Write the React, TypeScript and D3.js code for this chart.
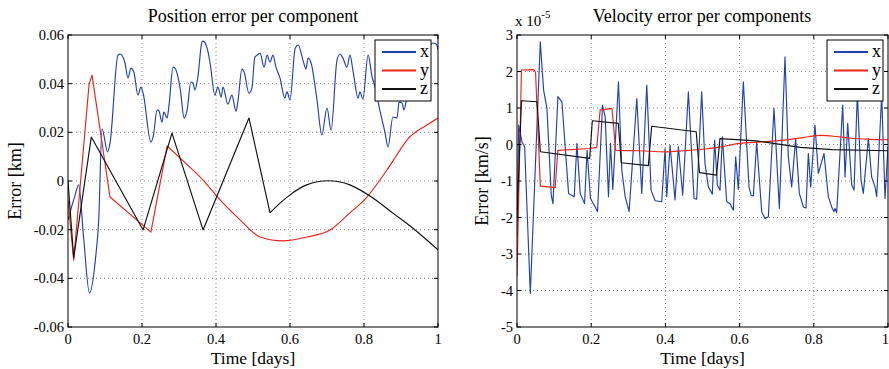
import React from "react";
import * as d3 from "d3";

// ---------- data ----------
const posTimeX = [0, 0.018, 0.029, 0.042, 0.058, 0.074, 0.083, 0.092, 0.107, 0.1135, 0.135, 0.141, 0.154, 0.162, 0.17, 0.178, 0.189, 0.197, 0.203, 0.224, 0.23, 0.241, 0.246, 0.254, 0.259, 0.268, 0.273, 0.284, 0.289, 0.303, 0.314, 0.322, 0.332, 0.338, 0.343, 0.351, 0.362, 0.365, 0.376, 0.384, 0.397, 0.405, 0.414, 0.419, 0.432, 0.443, 0.454, 0.459, 0.47, 0.476, 0.489, 0.497, 0.505, 0.511, 0.519, 0.53, 0.538, 0.546, 0.554, 0.562, 0.573, 0.586, 0.592, 0.6, 0.614, 0.622, 0.635, 0.643, 0.649, 0.657, 0.673, 0.686, 0.7, 0.711, 0.727, 0.735, 0.743, 0.754, 0.762, 0.77, 0.784, 0.789, 0.797, 0.811, 0.822, 0.83, 0.843, 0.857, 0.865, 0.878, 0.889, 0.895, 0.903, 0.908, 0.916, 0.93, 0.946, 0.962, 0.973, 0.986, 0.995, 1.0];
const posErrX = [-0.016, -0.0064, -0.0016, -0.0229, -0.046, -0.0324, -0.016, 0.0214, 0.012, 0.0155, 0.0517, 0.0522, 0.0485, 0.0423, 0.0464, 0.0448, 0.0353, 0.0386, 0.0361, 0.016, 0.0181, 0.0292, 0.0287, 0.0242, 0.0283, 0.0259, 0.0312, 0.0468, 0.0464, 0.0382, 0.0259, 0.0292, 0.0407, 0.0402, 0.0374, 0.0427, 0.0571, 0.0575, 0.0546, 0.0485, 0.0353, 0.0386, 0.0345, 0.0386, 0.0316, 0.0353, 0.0287, 0.0324, 0.046, 0.0448, 0.0361, 0.0382, 0.0509, 0.0517, 0.0526, 0.0468, 0.0517, 0.0489, 0.0517, 0.0468, 0.0423, 0.0341, 0.0366, 0.0333, 0.0546, 0.0559, 0.0497, 0.046, 0.0505, 0.0485, 0.0333, 0.0189, 0.03, 0.0209, 0.0497, 0.0522, 0.0505, 0.0468, 0.0517, 0.0456, 0.0341, 0.0366, 0.0337, 0.0517, 0.0427, 0.0386, 0.029, 0.0197, 0.014, 0.0263, 0.0259, 0.0324, 0.032, 0.0292, 0.0345, 0.045, 0.039, 0.05, 0.054, 0.0567, 0.0563, 0.054];

const posTimeY = [0, 0.0154, 0.057, 0.065, 0.1135, 0.224, 0.268, 0.338, 0.365, 0.411, 0.465, 0.519, 0.581, 0.646, 0.708, 0.762, 0.808, 0.843, 0.862, 0.889, 0.916, 0.97, 1.0];
const posErrY = [-0.008, -0.0325, 0.0398, 0.0435, -0.0066, -0.021, 0.0144, 0.0045, 0.0004, -0.0078, -0.016, -0.023, -0.0246, -0.023, -0.0201, -0.0131, -0.0066, 0.0004, 0.0045, 0.0108, 0.0168, 0.023, 0.0259];

const posTimeZ = [0, 0.0154, 0.063, 0.203, 0.281, 0.365, 0.489, 0.546, 0.573, 0.6, 0.645, 0.703, 0.762, 0.825, 0.879, 0.933, 1.0];
const posErrZ = [0, -0.0315, 0.0181, -0.0201, 0.0197, -0.0201, 0.0259, -0.0131, -0.0091, -0.0057, -0.0016, 0.0001, -0.0016, -0.0071, -0.0133, -0.0195, -0.0283];

const velTimeX = [0, 0.0045, 0.0135, 0.0206, 0.0359, 0.0628, 0.0717, 0.0807, 0.0924, 0.0969, 0.1103, 0.1211, 0.139, 0.1543, 0.1614, 0.1704, 0.182, 0.189, 0.198, 0.211, 0.217, 0.2305, 0.2377, 0.2466, 0.252, 0.2583, 0.2735, 0.2825, 0.2915, 0.3022, 0.3229, 0.3363, 0.3498, 0.3614, 0.3722, 0.3901, 0.3991, 0.4036, 0.4126, 0.426, 0.435, 0.4466, 0.4619, 0.4771, 0.4843, 0.4978, 0.5067, 0.5157, 0.5265, 0.5328, 0.54, 0.5472, 0.5535, 0.5652, 0.5741, 0.5831, 0.5894, 0.5966, 0.6101, 0.6253, 0.6307, 0.637, 0.646, 0.6595, 0.6685, 0.6775, 0.6927, 0.7071, 0.7224, 0.7314, 0.7403, 0.7511, 0.761, 0.7718, 0.779, 0.7853, 0.7916, 0.8032, 0.8122, 0.8275, 0.8392, 0.8482, 0.8545, 0.8572, 0.8617, 0.8779, 0.8842, 0.8914, 0.9022, 0.9084, 0.9174, 0.9273, 0.9335, 0.947, 0.956, 0.965, 0.9695, 0.983, 0.992, 1.0];
const velErrX = [-2.5, 0.53, 0.07, -0.06, -4.08, 2.81, 1.49, 0.99, -1.39, -1.62, 1.31, 1.17, -1.34, -1.43, 0.03, -1.34, -1.62, -0.16, -1.48, -1.71, -1.84, 1.08, 0.76, -1.43, 0.03, -1.23, 1.72, -0.7, -1.43, -1.84, 1.26, -1.34, 1.63, -1.25, -1.54, -1.57, -0.11, -1.43, -0.02, -1.52, -0.06, -1.39, 1.44, -1.48, -1.5, 1.44, -0.52, -1.16, -1.36, 0.12, -1.11, -1.25, 0.21, -1.57, -1.62, -1.8, -0.34, -1.23, 1.72, -1.16, -1.39, -1.41, 0.07, -1.84, -2.03, -1.98, 0.99, -1.75, 2.4, -0.34, -1.16, 0.16, -1.34, -1.71, -1.74, -0.25, -1.16, 0.53, -0.79, -0.25, -1.43, -1.71, -1.84, -1.75, -1.87, 1.08, -0.89, 0.58, -1.11, -1.25, 1.4, -0.98, -1.34, 0.16, -0.89, -1.16, -1.43, 1.35, -1.48, -0.06];

const velTimeY = [0, 0.012, 0.045, 0.05, 0.063, 0.103, 0.11, 0.197, 0.215, 0.224, 0.256, 0.266, 0.33, 0.4, 0.45, 0.5, 0.54, 0.6, 0.66, 0.72, 0.77, 0.82, 0.86, 0.9, 0.95, 1.0];
const velErrY = [-3.6, 2.04, 2.05, 1.98, -1.14, -1.18, -0.16, -0.11, -0.08, 0.94, 0.99, -0.16, -0.17, -0.2, -0.17, -0.13, -0.08, 0.03, 0.07, 0.12, 0.19, 0.25, 0.22, 0.17, 0.14, 0.13];

const velTimeZ = [0, 0.012, 0.054, 0.063, 0.196, 0.203, 0.273, 0.281, 0.354, 0.363, 0.483, 0.492, 0.538, 0.547, 0.646, 0.763, 0.85, 1.0];
const velErrZ = [-2.0, 1.2, 1.17, -0.2, -0.38, 0.65, 0.58, -0.5, -0.58, 0.5, 0.35, -0.77, -0.84, 0.16, 0.1, -0.08, -0.14, -0.17];

const timeTicks = [0, 0.2, 0.4, 0.6, 0.8, 1];
const posTicks = [-0.06, -0.04, -0.02, 0, 0.02, 0.04, 0.06];
const posTickLabels = ["-0.06", "-0.04", "-0.02", "0", "0.02", "0.04", "0.06"];
const velTicks = [-5, -4, -3, -2, -1, 0, 1, 2, 3];
const timeTickLabels = ["0", "0.2", "0.4", "0.6", "0.8", "1"];
const seriesNames = ["x", "y", "z"];

// ---------- style ----------
const COLORS = ["#2240b0", "#e8261c", "#111111"];
const FONT = "'Liberation Serif', 'Times New Roman', serif";
const TOP = 35;
const BOTTOM = 327;

type Series = { t: number[]; v: number[]; smoothAll?: boolean; smoothFrom?: number };

type PanelProps = {
  x0: number;
  x1: number;
  yDomain: [number, number];
  yTicks: number[];
  yTickLabels: string[];
  title: string;
  titleX: number;
  yLabel: string;
  yLabelX: number;
  series: Series[];
  legendX: number;
  legendW: number;
  clipId: string;
};

function Panel(p: PanelProps) {
  const xs = d3.scaleLinear().domain([0, 1]).range([p.x0, p.x1]);
  const ys = d3.scaleLinear().domain(p.yDomain).range([BOTTOM, TOP]);
  const cx = (p.x0 + p.x1) / 2;
  const mk = (curve: d3.CurveFactory) =>
    d3
      .line<[number, number]>()
      .x((d) => xs(d[0]))
      .y((d) => ys(d[1]))
      .curve(curve);
  const linear = mk(d3.curveLinear);
  const smooth = mk(d3.curveMonotoneX);
  return (
    <g>
      <defs>
        <clipPath id={p.clipId}>
          <rect x={p.x0} y={TOP} width={p.x1 - p.x0} height={BOTTOM - TOP} />
        </clipPath>
      </defs>
      <rect x={p.x0} y={TOP} width={p.x1 - p.x0} height={BOTTOM - TOP} fill="#fff" />
      {/* grid */}
      {timeTicks.slice(1, -1).map((t) => (
        <line key={"gx" + t} x1={xs(t)} x2={xs(t)} y1={TOP} y2={BOTTOM} stroke="#8a8a8a" strokeWidth={1} strokeDasharray="1,3" />
      ))}
      {p.yTicks.slice(1, -1).map((v) => (
        <line key={"gy" + v} x1={p.x0} x2={p.x1} y1={ys(v)} y2={ys(v)} stroke="#8a8a8a" strokeWidth={1} strokeDasharray="1,3" />
      ))}
      {/* series */}
      <g clipPath={`url(#${p.clipId})`}>
        {p.series.map((s, i) => {
          const pts = d3.zip(s.t, s.v) as [number, number][];
          let d = "";
          if (s.smoothAll) {
            d = smooth(pts) || "";
          } else if (s.smoothFrom !== undefined) {
            const a = pts.filter((q) => q[0] <= s.smoothFrom!);
            const b = pts.filter((q) => q[0] >= s.smoothFrom!);
            d = (linear(a) || "") + (smooth(b) || "");
          } else {
            d = linear(pts) || "";
          }
          return <path key={i} d={d} fill="none" stroke={COLORS[i]} strokeWidth={1.15} strokeLinejoin="round" />;
        })}
      </g>
      {/* ticks inside */}
      {timeTicks.map((t) => (
        <g key={"tx" + t}>
          <line x1={xs(t)} x2={xs(t)} y1={BOTTOM} y2={BOTTOM - 4} stroke="#000" />
          <line x1={xs(t)} x2={xs(t)} y1={TOP} y2={TOP + 4} stroke="#000" />
        </g>
      ))}
      {p.yTicks.map((v) => (
        <g key={"ty" + v}>
          <line x1={p.x0} x2={p.x0 + 4} y1={ys(v)} y2={ys(v)} stroke="#000" />
          <line x1={p.x1} x2={p.x1 - 4} y1={ys(v)} y2={ys(v)} stroke="#000" />
        </g>
      ))}
      <rect x={p.x0} y={TOP} width={p.x1 - p.x0} height={BOTTOM - TOP} fill="none" stroke="#000" strokeWidth={1} />
      {/* tick labels */}
      {timeTicks.map((t, i) => {
        const atEdge = xs(t) > 880;
        return (
          <text key={"lx" + t} x={atEdge ? 889 : xs(t)} y={BOTTOM + 17} textAnchor={atEdge ? "end" : "middle"} fontFamily={FONT} fontSize={14.5} fill="#000">
            {timeTickLabels[i]}
          </text>
        );
      })}
      {p.yTicks.map((v, i) => (
        <text key={"ly" + v} x={p.x0 - 4} y={ys(v) + 5} textAnchor="end" fontFamily={FONT} fontSize={14.5} fill="#000">
          {p.yTickLabels[i]}
        </text>
      ))}
      {/* labels */}
      <text x={cx} y={364} textAnchor="middle" fontFamily={FONT} fontSize={17.5} fill="#000">
        Time [days]
      </text>
      <text x={p.titleX} y={22} textAnchor="middle" fontFamily={FONT} fontSize={18} fill="#000">
        {p.title}
      </text>
      <text transform={`translate(${p.yLabelX},${(TOP + BOTTOM) / 2}) rotate(-90)`} textAnchor="middle" fontFamily={FONT} fontSize={18} fill="#000">
        {p.yLabel}
      </text>
      {/* legend */}
      <g transform={`translate(${p.legendX},40)`}>
        <rect x={0} y={0} width={p.legendW} height={61} fill="#fff" stroke="#000" strokeWidth={1} />
        {seriesNames.map((n, i) => (
          <g key={n} transform={`translate(0,${12 + i * 18.5})`}>
            <line x1={7} x2={41} y1={0} y2={0} stroke={COLORS[i]} strokeWidth={1.8} />
            <text x={45} y={5} fontFamily={FONT} fontSize={18} fill="#000">
              {n}
            </text>
          </g>
        ))}
      </g>
    </g>
  );
}

export default function App() {
  return (
    <div style={{ position: "absolute", left: 0, top: 0 }}>
      <svg width={889} height={369} style={{ display: "block", background: "#fff" }}>
        <rect x={0} y={0} width={889} height={369} fill="#fff" />
        <Panel
          x0={68}
          x1={438}
          yDomain={[-0.06, 0.06]}
          yTicks={posTicks}
          yTickLabels={posTickLabels}
          title="Position error per component"
          titleX={253}
          yLabel="Error [km]"
          yLabelX={21}
          series={[
            { t: posTimeX, v: posErrX, smoothAll: true },
            { t: posTimeY, v: posErrY, smoothFrom: 0.338 },
            { t: posTimeZ, v: posErrZ, smoothFrom: 0.546 },
          ]}
          legendX={375}
          legendW={56}
          clipId="clipPos"
        />
        <Panel
          x0={517}
          x1={888}
          yDomain={[-5, 3]}
          yTicks={velTicks}
          yTickLabels={velTicks.map(String)}
          title="Velocity error per components"
          titleX={702}
          yLabel="Error [km/s]"
          yLabelX={488}
          series={[
            { t: velTimeX, v: velErrX },
            { t: velTimeY, v: velErrY, smoothFrom: 0.266 },
            { t: velTimeZ, v: velErrZ },
          ]}
          legendX={827}
          legendW={56}
          clipId="clipVel"
        />
        <text x={515} y={26} fontFamily={FONT} fontSize={15} fill="#000">
          x 10
          <tspan dy={-8} fontSize={11}>
            -5
          </tspan>
        </text>
      </svg>
    </div>
  );
}
